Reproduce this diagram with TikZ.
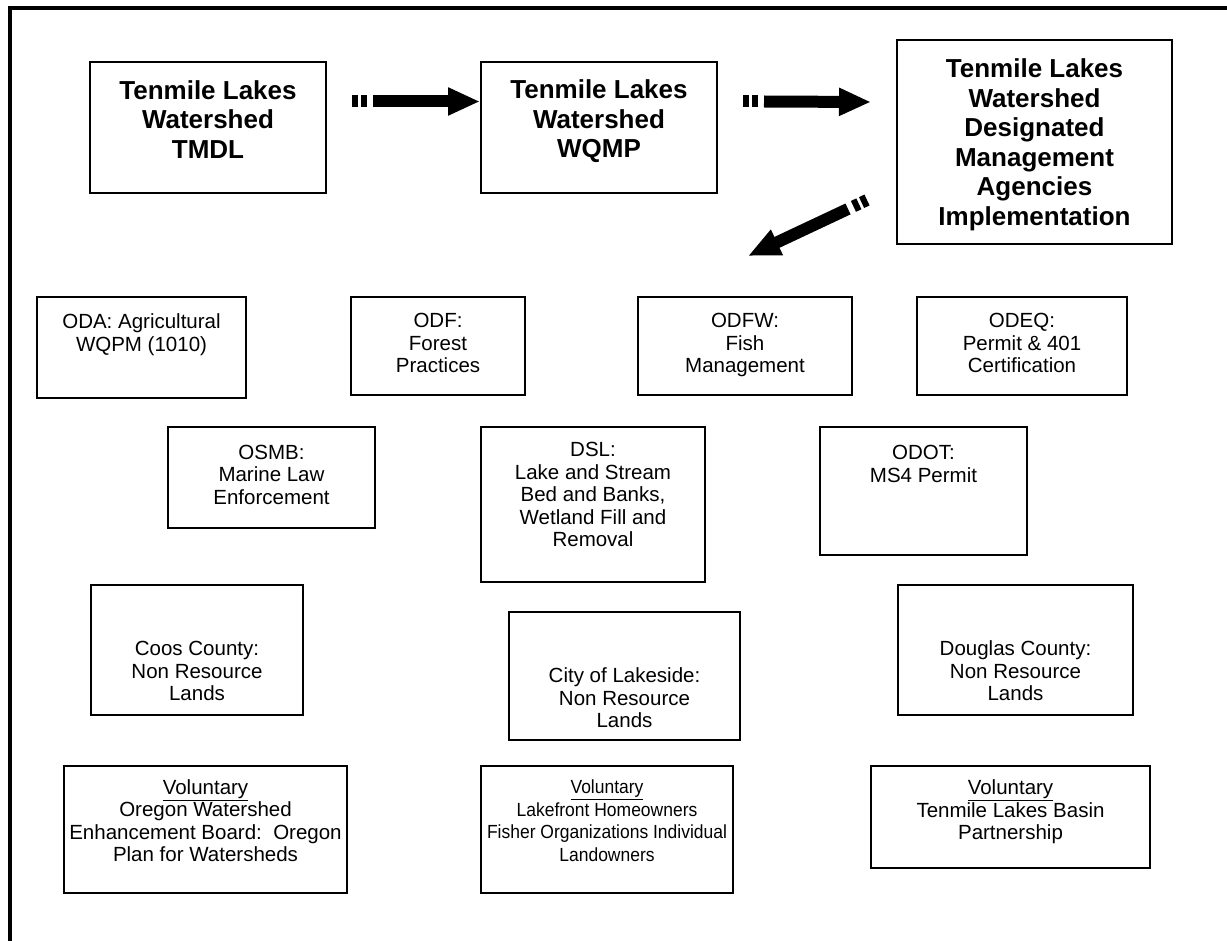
\documentclass[tikz,border=0pt]{standalone}
\usepackage{fontspec}
\setmainfont{Liberation Sans}
\usetikzlibrary{arrows.meta, calc}

\begin{document}
\begin{tikzpicture}[x=1pt, y=-1pt,
	main/.style = {draw, line width=2pt, inner sep=0pt},
	txt/.style = {align=center, inner sep=0pt, font=\fontsize{20.5}{22.5}\selectfont},
	headtxt/.style = {align=center, inner sep=0pt, font=\bfseries\fontsize{26}{29.5}\selectfont},
	bigarrow/.style = {line width=12pt, -{Triangle[length=32pt, width=26pt]}},
	tailmarks/.style = {line width=12pt, dash pattern=on 6pt off 3pt}]
		\useasboundingbox (0,0) rectangle (1227,941);
		\draw[line width=3.5pt] (10,950) -- (10,8) -- (1240,8);
		
		\node[main, minimum width=236pt, minimum height=131pt, label={[headtxt, yshift=8pt]center:{Tenmile Lakes\\Watershed\\TMDL}}] (tmdl) at (208,127.5) {};
		\node[main, minimum width=236pt, minimum height=131pt, label={[headtxt, yshift=6pt]center:{Tenmile Lakes\\Watershed\\WQMP}}] (wqmp) at (599,127.5) {};
		\node[main, minimum width=275pt, minimum height=204pt, label={[headtxt, yshift=-3pt]center:{Tenmile Lakes\\Watershed\\Designated\\Management\\Agencies\\Implementation}}] (dma) at (1034.5,142) {};
		
		\node[main, minimum width=209pt, minimum height=101pt, label={[txt, yshift=13pt]center:{ODA: Agricultural\\WQPM (1010)}}] (oda) at (141.5,347.5) {};
		\node[main, minimum width=174pt, minimum height=98pt, label={[txt, yshift=3pt]center:{ODF:\\Forest\\Practices}}] (odf) at (438,346) {};
		\node[main, minimum width=214pt, minimum height=98pt, label={[txt, yshift=1pt]center:{ODFW:\\Fish\\Management}}] (odfw) at (745,346) {};
		\node[main, minimum width=210pt, minimum height=98pt, label={[txt, yshift=3pt]center:{ODEQ:\\Permit \& 401\\Certification}}] (odeq) at (1022,346) {};
		
		\node[main, minimum width=207pt, minimum height=101pt, label={[txt, yshift=3pt]center:{OSMB:\\Marine Law\\Enforcement}}] (osmb) at (271.5,477.5) {};
		\node[main, minimum width=224pt, minimum height=155pt, label={[txt, yshift=10pt]center:{DSL:\\Lake and Stream\\Bed and Banks,\\Wetland Fill and\\Removal}}] (dsl) at (593,504.5) {};
		\node[main, minimum width=207pt, minimum height=128pt, label={[txt, yshift=27pt]center:{ODOT:\\MS4 Permit}}] (odot) at (923.5,491) {};
		
		\node[main, minimum width=212pt, minimum height=130pt, label={[txt, yshift=-21pt]center:{Coos County:\\Non Resource\\Lands}}] (coos) at (197,650) {};
		\node[main, minimum width=231pt, minimum height=128pt, label={[txt, yshift=-22pt]center:{City of Lakeside:\\Non Resource\\Lands}}] (lakeside) at (624.5,676) {};
		\node[main, minimum width=235pt, minimum height=130pt, label={[txt, yshift=-21pt]center:{Douglas County:\\Non Resource\\Lands}}] (douglas) at (1015.5,650) {};
		
		\node[main, minimum width=283pt, minimum height=127pt, label={[txt, yshift=9pt]center:{\underline{Voluntary}\\Oregon Watershed\\Enhancement Board:\ \ Oregon\\Plan for Watersheds}}] (oweb) at (205.5,829.5) {};
		\node[main, minimum width=252pt, minimum height=127pt, label={[txt, yshift=9pt, font=\fontsize{19}{22.5}\selectfont\addfontfeatures{FakeStretch=0.92}]center:{\underline{Voluntary}\\Lakefront Homeowners\\Fisher Organizations Individual\\Landowners}}] (owners) at (607,829.5) {};
		\node[main, minimum width=279pt, minimum height=102pt, label={[txt, yshift=5pt]center:{\underline{Voluntary}\\Tenmile Lakes Basin\\Partnership}}] (basin) at (1010.5,817) {};
		
		\coordinate (s3) at ([xshift=-29pt, yshift=45pt]dma.south west);
		\coordinate (drop) at (748,256);
		
		\draw[tailmarks] ([xshift=25pt, yshift=26pt]tmdl.east) -- ++(15,0);
		\draw[bigarrow] ([xshift=46pt, yshift=26pt]tmdl.east) -- ([yshift=26pt]wqmp.west);
		\draw[tailmarks] ([xshift=25pt, yshift=26pt]wqmp.east) -- ++(15,0);
		\draw[bigarrow] ([xshift=46pt, yshift=26pt]wqmp.east) -- ([xshift=-25pt, yshift=40pt]dma.west);
		\draw[tailmarks] (s3) -- ($(s3)!15pt!(drop)$);
		\draw[bigarrow] ($(s3)!21pt!(drop)$) -- (drop);
	\end{tikzpicture}
\end{document}
